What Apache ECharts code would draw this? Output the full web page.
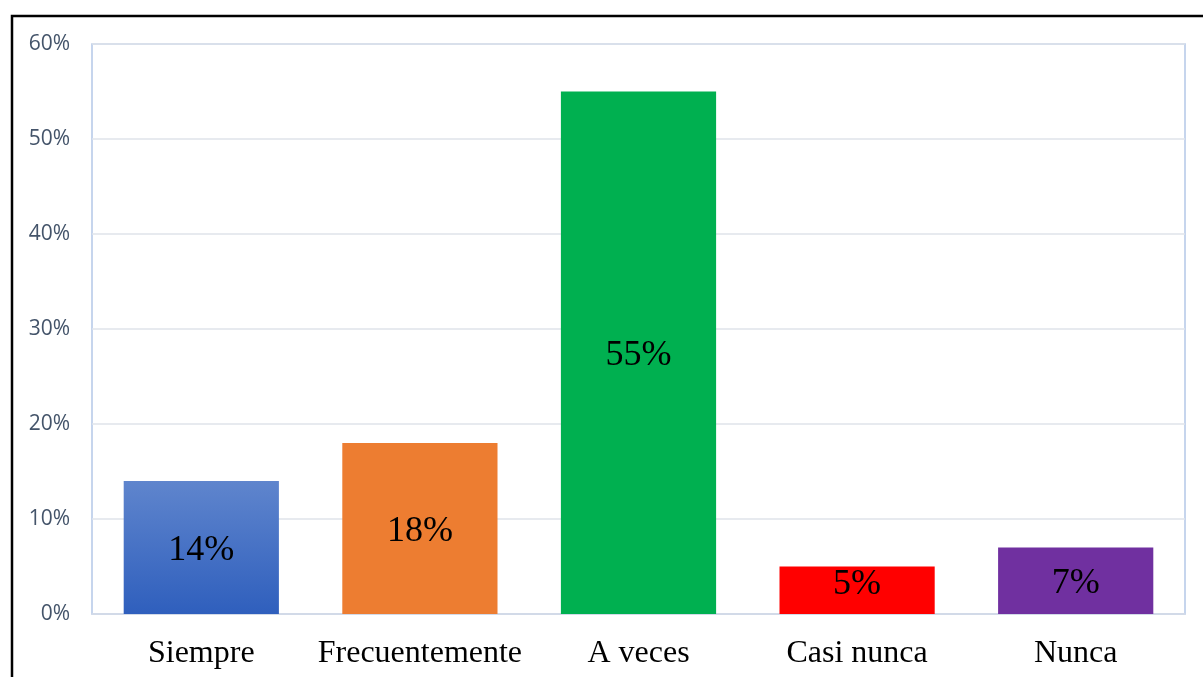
<!DOCTYPE html>
<html>
<head>
<meta charset="utf-8">
<script src="https://cdn.jsdelivr.net/npm/echarts@6/dist/echarts.min.js"></script>
<style>
  html, body { margin: 0; padding: 0; background: #fff; }
  #chart { width: 1203px; height: 677px; }
</style>
</head>
<body>
<div id="chart"></div>
<script>
// Survey answer frequencies (percent)
const categories = ['Siempre', 'Frecuentemente', 'A veces', 'Casi nunca', 'Nunca'];
const values = [14, 18, 55, 5, 7];
const yTicks = [0, 10, 20, 30, 40, 50, 60];

const barColors = [
  new echarts.graphic.LinearGradient(0, 0, 0, 1, [
    { offset: 0, color: '#5f85cd' },
    { offset: 1, color: '#2f5fbd' }
  ]),
  '#ed7d31',
  '#00b050',
  '#ff0000',
  '#7030a0'
];

const chart = echarts.init(document.getElementById('chart'), null, { renderer: 'canvas' });
chart.setOption({
  animation: false,
  backgroundColor: '#ffffff',
  graphic: [{
    type: 'rect',
    shape: { x: 12, y: 16, width: 1200, height: 700 },
    style: { fill: 'none', stroke: '#000000', lineWidth: 2.5 },
    silent: true,
    z: 100
  }],
  grid: {
    left: 92, right: 18, top: 44, bottom: 63,
    show: true,
    borderColor: '#b4c7e7',
    borderWidth: 1.5
  },
  xAxis: {
    type: 'category',
    data: categories,
    axisLine: { show: true, lineStyle: { color: '#d0d8e8', width: 1.5 } },
    axisTick: { show: false },
    axisLabel: {
      interval: 0,
      hideOverlap: false,
      color: '#000000',
      fontFamily: '"Liberation Serif", "Times New Roman", serif',
      fontSize: 32,
      margin: 24
    }
  },
  yAxis: {
    type: 'value',
    min: yTicks[0],
    max: yTicks[yTicks.length - 1],
    interval: 10,
    axisLine: { show: false },
    axisTick: { show: false },
    splitLine: { lineStyle: { color: '#dfe3ea', width: 1.5 } },
    axisLabel: {
      color: '#44546a',
      fontFamily: '"Open Sans", "DejaVu Sans", sans-serif',
      fontSize: 21,
      margin: 22,
      formatter: v => v + '%'
    }
  },
  series: [{
    type: 'bar',
    barCategoryGap: '29%',
    data: values.map((v, i) => ({
      value: v,
      itemStyle: { color: barColors[i] },
      // the short bar's label sits a little higher, near its top edge
      label: v < 6 ? { offset: [0, -6] } : undefined
    })),
    label: {
      show: true,
      position: 'inside',
      offset: [0, 3],
      color: '#000000',
      fontFamily: '"Liberation Serif", "Times New Roman", serif',
      fontSize: 36,
      formatter: p => p.value + '%'
    }
  }]
});
</script>
</body>
</html>
